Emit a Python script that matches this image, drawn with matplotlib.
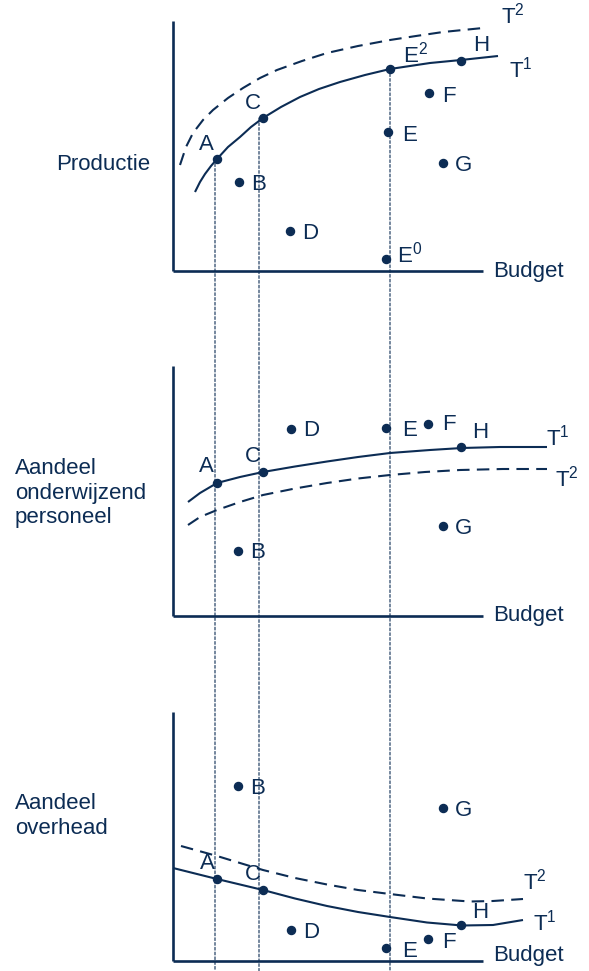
import matplotlib
matplotlib.use("Agg")
import matplotlib.pyplot as plt
from matplotlib.patches import ConnectionPatch
from matplotlib.transforms import blended_transform_factory

plt.rcParams['font.family'] = ['Liberation Sans', 'DejaVu Sans']
plt.rcParams['mathtext.fontset'] = 'custom'
plt.rcParams['mathtext.rm'] = 'Liberation Sans'
plt.rcParams['mathtext.it'] = 'Liberation Sans'
plt.rcParams['mathtext.bf'] = 'Liberation Sans:bold'

NAVY = '#0c2c54'
FS = 16

# ---------------- data ----------------
labels = ['A', 'B', 'C', 'D', 'E', 'F', 'G', 'H']

# Panel 1: Productie
p1_x = [4.4, 6.6, 9.0, 11.7, 21.5, 25.6, 27.0, 28.8]
p1_y = [11.2, 8.9, 15.3, 4.0, 13.9, 17.8, 10.8, 21.0]
p1_extra_labels = [r'E$^\mathrm{0}$', r'E$^\mathrm{2}$']
p1_extra_x = [21.3, 21.7]
p1_extra_y = [1.2, 20.2]
p1_t1_x = [2.2, 2.7, 3.2, 3.8, 4.4, 5.5, 6.7, 7.8, 9.0, 10.8, 12.7, 14.6, 16.7, 19.2, 21.7, 23.7, 25.7, 28.8, 32.5]
p1_t1_y = [7.9, 8.9, 9.7, 10.5, 11.2, 12.4, 13.4, 14.4, 15.3, 16.4, 17.4, 18.2, 18.9, 19.6, 20.2, 20.5, 20.8, 21.1, 21.5]
p1_t2_x = [0.7, 1.3, 2.0, 3.0, 4.0, 5.5, 7.0, 8.7, 10.4, 12.9, 15.4, 18.5, 21.7, 24.3, 27.0, 31.0]
p1_t2_y = [10.6, 12.4, 13.8, 15.1, 16.1, 17.3, 18.3, 19.3, 20.1, 21.0, 21.8, 22.5, 23.1, 23.5, 23.9, 24.3]

# Panel 2: Aandeel onderwijzend personeel
p2_x = [4.4, 6.5, 9.0, 11.8, 21.3, 25.5, 27.0, 28.8]
p2_y = [13.3, 6.5, 14.4, 18.7, 18.8, 19.2, 9.0, 16.9]
p2_t1_x = [1.5, 2.7, 4.4, 6.7, 9.0, 12.2, 15.4, 18.5, 21.7, 25.7, 28.9, 32.7, 37.4]
p2_t1_y = [11.4, 12.3, 13.3, 13.9, 14.4, 14.95, 15.45, 15.9, 16.3, 16.6, 16.8, 16.9, 16.9]
p2_t2_x = [1.5, 2.7, 4.4, 6.7, 9.0, 12.2, 15.4, 18.5, 21.7, 25.2, 28.7, 33.0, 37.4]
p2_t2_y = [9.1, 9.9, 10.6, 11.4, 12.1, 12.75, 13.3, 13.75, 14.1, 14.4, 14.6, 14.7, 14.7]

# Panel 3: Aandeel overhead
p3_x = [4.4, 6.5, 9.0, 11.8, 21.3, 25.5, 27.0, 28.8]
p3_y = [8.2, 17.5, 7.1, 3.1, 1.3, 2.2, 15.3, 3.6]
p3_t1_x = [0.0, 2.2, 4.4, 6.7, 9.0, 12.2, 15.4, 18.5, 21.7, 25.4, 28.9, 32.0, 35.0]
p3_t1_y = [9.3, 8.75, 8.2, 7.65, 7.1, 6.25, 5.5, 4.9, 4.4, 3.85, 3.55, 3.6, 4.1]
p3_t2_x = [0.8, 2.6, 4.4, 6.7, 9.0, 12.2, 15.4, 18.5, 21.7, 25.4, 29.7, 32.0, 35.0]
p3_t2_y = [11.5, 11.0, 10.5, 9.8, 9.1, 8.3, 7.65, 7.1, 6.7, 6.25, 5.95, 6.0, 6.2]

# dotted guide lines (budget positions of A, C, E)
guide_x = [4.2, 8.6, 21.7]
guide_top = [11.2, 15.3, 20.2]

side_labels = ['Productie', 'Aandeel\nonderwijzend\npersoneel', 'Aandeel\noverhead']

# ---------------- figure ----------------
W, H = 589, 971
fig = plt.figure(figsize=(W / 100, H / 100), dpi=100)

def make_ax(axis_px, top_px):
    left = 173 / W
    bottom = 1 - axis_px / H
    height = 270 / H
    ax = fig.add_axes([left, bottom, 1 - left, height])
    ax.set_xlim(0, (W - 173) / 10)
    ax.set_ylim(0, 27.0)
    ax.patch.set_alpha(0)
    for s in ['top', 'right']:
        ax.spines[s].set_visible(False)
    for s in ['left', 'bottom']:
        ax.spines[s].set_color(NAVY)
        ax.spines[s].set_linewidth(1.9)
        ax.spines[s].set_capstyle('butt')
    ax.spines['left'].set_bounds(0, (axis_px - top_px) / 10)
    ax.spines['bottom'].set_bounds(0, 31.0)
    ax.set_xticks([])
    ax.set_yticks([])
    return ax

ax1 = make_ax(271, 21)
ax2 = make_ax(616, 366)
ax3 = make_ax(961, 712)

def lbl(ax, text, x, y, dx, dy, ha='left'):
    ax.annotate(text, (x, y), xytext=(dx, dy), textcoords='offset pixels',
                ha=ha, va='center', fontsize=FS, color=NAVY, annotation_clip=False)

def draw_panel(ax, xs, ys, t1x, t1y, t2x, t2y, offsets, t1_off, t2_off, budget_y):
    ax.plot(t1x, t1y, color=NAVY, lw=1.5, clip_on=False, solid_capstyle='butt',
            solid_joinstyle='round')
    ax.plot(t2x, t2y, color=NAVY, lw=1.5, ls=(0, (6, 3.5)), clip_on=False)
    ax.plot(xs, ys, 'o', color=NAVY, ms=5.8, clip_on=False, zorder=5)
    for t, x, y in zip(labels, xs, ys):
        dx, dy, ha = offsets.get(t, (12, -2, 'left'))
        lbl(ax, t, x, y, dx, dy, ha)
    lbl(ax, r'T$^\mathrm{1}$', t1x[-1], t1y[-1], t1_off[0], t1_off[1])
    lbl(ax, r'T$^\mathrm{2}$', t2x[-1], t2y[-1], t2_off[0], t2_off[1])
    ax.text(32.0, budget_y, 'Budget', fontsize=FS, color=NAVY, ha='left', va='center')

draw_panel(ax1, p1_x, p1_y, p1_t1_x, p1_t1_y, p1_t2_x, p1_t2_y,
           {'A': (-11, 15, 'center'), 'C': (-10, 15, 'center'), 'H': (20, 16, 'center'),
            'E': (14, -3, 'left'), 'F': (13, -3, 'left')},
           (11, -14), (18, 12), 0.0)
for t, x, y, off in zip(p1_extra_labels, p1_extra_x, p1_extra_y, [(11, 4), (13, 14)]):
    ax1.plot([x], [y], 'o', color=NAVY, ms=5.8, zorder=5)
    lbl(ax1, t, x, y, off[0], off[1])

draw_panel(ax2, p2_x, p2_y, p2_t1_x, p2_t1_y, p2_t2_x, p2_t2_y,
           {'A': (-11, 16, 'center'), 'C': (-10, 15, 'center'), 'H': (19, 14, 'center'),
            'E': (16, -3, 'left'), 'F': (14, -1, 'left')},
           (-1, 9), (8, -10), 0.0)

draw_panel(ax3, p3_x, p3_y, p3_t1_x, p3_t1_y, p3_t2_x, p3_t2_y,
           {'A': (-10, 16, 'center'), 'C': (-10, 16, 'center'), 'H': (19, 13, 'center'),
            'E': (16, -3, 'left'), 'F': (14, -3, 'left')},
           (10, -3), (0, 17), 0.6)

# dotted vertical guides from panel 1 down to the bottom of the figure
for gx, gy in zip(guide_x, guide_top):
    con = ConnectionPatch(xyA=(gx, gy), coordsA=ax1.transData,
                          xyB=(gx, 0.0), coordsB=blended_transform_factory(ax1.transData, fig.transFigure),
                          color=NAVY, lw=0.8, ls=(0, (2.5, 1.8)), zorder=1)
    fig.add_artist(con)

# side labels
fig.text(103 / W, 1 - 165 / H, side_labels[0], fontsize=FS, color=NAVY, ha='center', va='center')
fig.text(15 / W, 1 - 493 / H, side_labels[1], fontsize=FS, color=NAVY, ha='left', va='center',
         linespacing=1.2)
fig.text(15 / W, 1 - 816 / H, side_labels[2], fontsize=FS, color=NAVY, ha='left', va='center',
         linespacing=1.2)

fig.savefig('out.png', dpi=100, facecolor='white')
